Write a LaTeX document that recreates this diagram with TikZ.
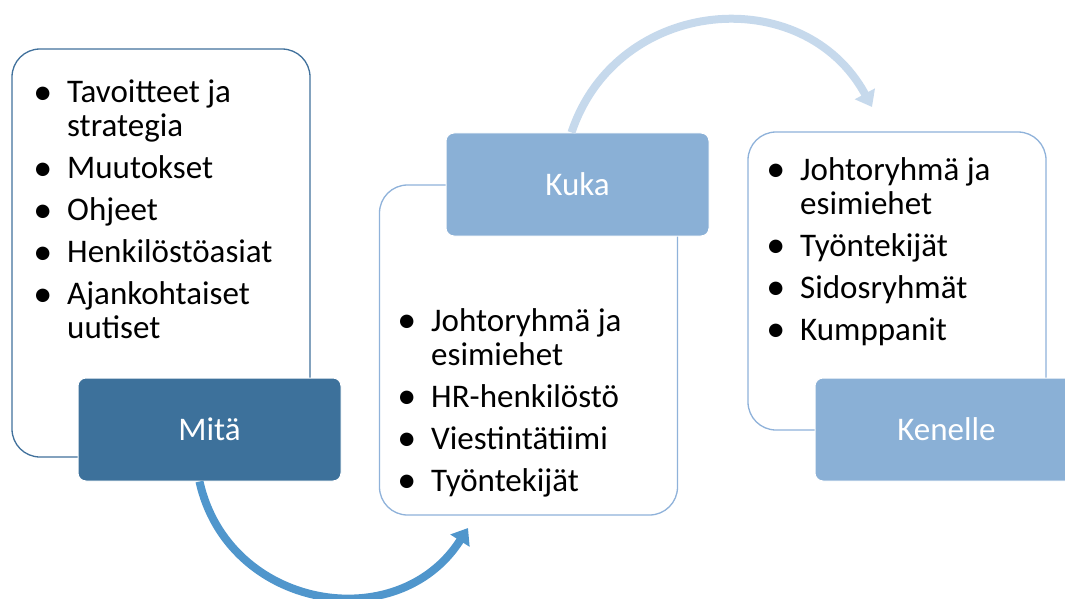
\documentclass[tikz,border=0pt]{standalone}
\usepackage{fontspec}
\setmainfont{Carlito}
\usetikzlibrary{arrows.meta}

\definecolor{mitablue}{HTML}{3D719B}
\definecolor{kukablue}{HTML}{8AB0D6}
\definecolor{paleblue}{HTML}{C6D9EC}
\definecolor{flowblue}{HTML}{5096CC}
\definecolor{darkedge}{HTML}{41719C}
\definecolor{lightedge}{HTML}{8FB2DA}

\newcommand{\listfont}{\fontsize{33}{34}\selectfont}
\newcommand{\bul}{\llap{\raisebox{-1.5pt}{\fontsize{38}{34}\selectfont\textbullet}\hspace{15pt}}}

\begin{document}
\begin{tikzpicture}[x = 1pt, y = -1pt,
  panel/.style = {draw, fill = white, rounded corners = 28pt, line width = 1.3pt, minimum width = 298pt, inner sep = 0pt},
  head/.style = {draw = white, line width = 1pt, rounded corners = 8pt, minimum width = 263pt, minimum height = 103pt, text = white, font = \listfont},
  items/.style = {anchor = base west, inner sep = 0pt, font = \listfont},
  flow/.style = {line width = 8pt, -{Triangle[width = 22pt, length = 15pt]}}]

\useasboundingbox (0,0) rectangle (1065,599);

\node [panel, draw = darkedge, minimum height = 408pt] (p1) at (161,253) {};
\node [panel, draw = lightedge, minimum height = 330pt] (p2) at (528.5,350) {};
\node [panel, draw = lightedge, minimum height = 298pt] (p3) at (897,281) {};

\node [head, fill = mitablue] (mita) at (209.5,429.5) {Mitä};
\node [head, fill = kukablue] (kuka) at (577.5,184.5) {Kuka};
\node [head, fill = kukablue] (kenelle) at (946.5,429.5) {Kenelle};

\node [items] (l1) at (67,103) {\begin{tabular}[t]{@{}l@{}}
\bul Tavoitteet ja\\ strategia\\[8pt]
\bul Muutokset\\[8pt]
\bul Ohjeet\\[8pt]
\bul Henkilöstöasiat\\[8pt]
\bul Ajankohtaiset\\ uutiset
\end{tabular}};

\node [items] (l2) at (431,331) {\begin{tabular}[t]{@{}l@{}}
\bul Johtoryhmä ja\\ esimiehet\\[8pt]
\bul HR-henkilöstö\\[8pt]
\bul Viestintätiimi\\[8pt]
\bul Työntekijät
\end{tabular}};

\node [items] (l3) at (800,180) {\begin{tabular}[t]{@{}l@{}}
\bul Johtoryhmä ja\\ esimiehet\\[8pt]
\bul Työntekijät\\[8pt]
\bul Sidosryhmät\\[8pt]
\bul Kumppanit
\end{tabular}};

\coordinate (tip1) at (468,528);
\coordinate (tip2) at (872,107);

\draw [flow, flowblue] ([xshift = -10pt]mita.south) to [out = -77.5, in = -122.5, looseness = 1.23] (tip1);
\draw [flow, paleblue] ([xshift = -6pt]kuka.north) to [out = 71.6, in = 118.4, looseness = 1.22] (tip2);

\end{tikzpicture}
\end{document}
